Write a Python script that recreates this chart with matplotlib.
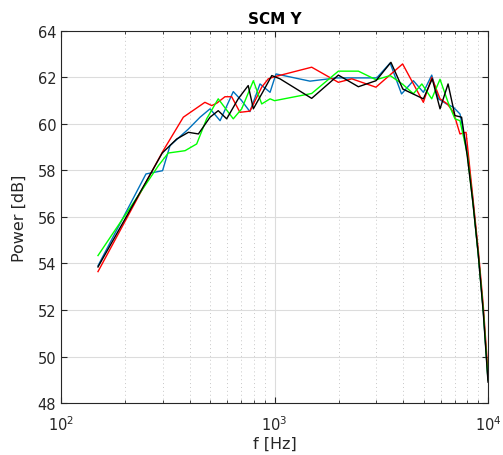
import matplotlib
matplotlib.use("Agg")
import matplotlib.pyplot as plt
from matplotlib.ticker import LogLocator, NullFormatter

# values
f_blue = [149, 250, 299, 324, 395, 448, 499, 556, 641, 702, 767, 855, 953, 1016,
          1466, 1955, 3012, 3480, 3936, 4470, 4980, 5450, 5860, 6390, 6880, 7390,
          8000, 8500, 9000, 9500, 10000]
p_blue = [53.9, 57.85, 57.99, 59.07, 59.78, 60.29, 60.65, 60.14, 61.39, 61.0, 60.53, 61.72, 61.36, 62.15,
          61.84, 61.98, 61.98, 62.62, 61.29, 61.86, 61.36, 62.1, 61.08, 60.86, 60.72, 60.43,
          58.8, 56.7, 54.4, 52.0, 49.0]

f_red = [149, 281, 301, 374, 472, 508, 536, 586, 630, 689, 767, 871, 935, 1000,
         1493, 1991, 2302, 2985, 3981, 4980, 5450, 5960, 6450, 6890, 7390, 7890,
         8500, 9000, 9500, 10000]
p_red = [53.65, 58.35, 58.85, 60.29, 60.93, 60.79, 60.89, 61.17, 61.17, 60.5, 60.55, 61.58, 61.94, 62.03,
         62.44, 61.79, 61.94, 61.58, 62.58, 60.93, 62.0, 61.08, 60.86, 60.5, 59.57, 59.64,
         56.8, 54.6, 52.2, 49.3]

f_green = [149, 286, 318, 381, 432, 481, 545, 641, 702, 796, 871, 953, 1000,
           1493, 1991, 2471, 2990, 3480, 3990, 4470, 4900, 5450, 5960, 6500, 7000, 7390,
           8000, 8500, 9000, 9500, 10000]
p_green = [54.34, 58.21, 58.75, 58.85, 59.14, 60.22, 61.08, 60.22, 60.65, 61.86, 60.86, 61.08, 61.0,
           61.31, 62.27, 62.27, 61.9, 62.08, 61.7, 61.3, 61.72, 61.08, 61.92, 60.93, 60.22, 60.14,
           58.7, 56.6, 54.4, 52.0, 49.0]

f_black = [149, 298, 348, 395, 440, 499, 545, 597, 676, 753, 796, 888, 971, 1061,
           1493, 1991, 2471, 2990, 3510, 3990, 4980, 5480, 5960, 6500, 7000, 7520,
           8000, 8500, 9000, 9500, 10000]
p_black = [53.85, 58.75, 59.35, 59.64, 59.57, 60.29, 60.57, 60.22, 61.08, 61.65, 60.65, 61.43, 62.08, 61.94,
           61.1, 62.1, 61.6, 61.86, 62.65, 61.5, 61.08, 61.94, 60.65, 61.72, 60.36, 60.29,
           58.6, 56.6, 54.4, 51.9, 48.9]

y_ticks = [48, 50, 52, 54, 56, 58, 60, 62, 64]

fig = plt.figure(figsize=(5.03, 4.56), dpi=100)
ax = fig.add_axes([0.1213, 0.114, 0.8489, 0.816])

ax.plot(f_blue, p_blue, color="#0072BD", lw=1)
ax.plot(f_red, p_red, color="#FF0000", lw=1)
ax.plot(f_green, p_green, color="#00FF00", lw=1)
ax.plot(f_black, p_black, color="black", lw=1)

ax.set_xscale("log")
ax.set_xlim(100, 10000)
ax.set_ylim(48, 64)
ax.set_yticks(y_ticks)
ax.xaxis.set_minor_locator(LogLocator(base=10, subs=range(2, 10)))
ax.xaxis.set_minor_formatter(NullFormatter())

ax.grid(True, which="major", color="#dcdcdc", lw=0.8)
ax.grid(True, which="minor", axis="x", color="#c8c8c8", lw=0.7, ls=(0, (1, 3)))
ax.set_axisbelow(True)

for s in ax.spines.values():
    s.set_color("#262626")
    s.set_linewidth(0.8)
ax.tick_params(which="both", direction="in", top=True, right=True, colors="#262626",
               labelsize=10.5, labelcolor="#262626")
ax.tick_params(which="major", length=4)
ax.tick_params(which="minor", length=2)
ax.tick_params(axis="x", which="major", pad=8)

ax.set_title("SCM Y", fontsize=11, fontweight="bold")
ax.set_xlabel("f [Hz]", fontsize=11.5, color="#262626", labelpad=2)
ax.set_ylabel("Power [dB]", fontsize=11.5, color="#262626", labelpad=8)

fig.savefig("out.png", dpi=100)
